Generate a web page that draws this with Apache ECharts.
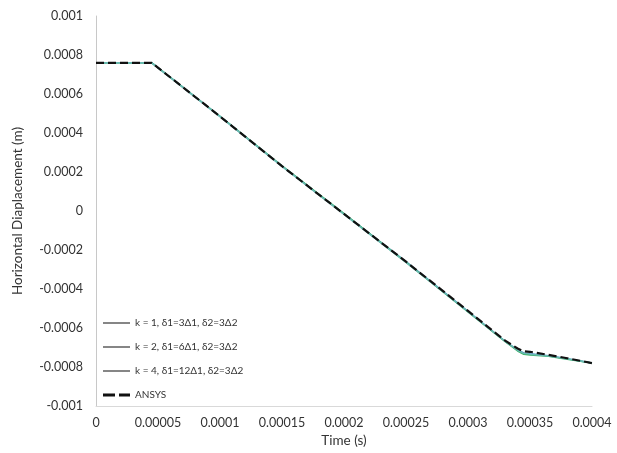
<!DOCTYPE html>
<html><head><meta charset="utf-8">
<script src="https://cdn.jsdelivr.net/npm/echarts@6/dist/echarts.min.js"></script>
<style>html,body{margin:0;padding:0;background:#fff}#c{width:617px;height:453px}</style>
</head><body><div id="c"></div>
<script>
const seriesNames = ['k = 1, \u03b41=3\u03941, \u03b42=3\u03942', 'k = 2, \u03b41=6\u03941, \u03b42=3\u03942', 'k = 4, \u03b41=12\u03941, \u03b42=3\u03942', 'ANSYS'];
const xTickLabels = ['0','0.00005','0.0001','0.00015','0.0002','0.00025','0.0003','0.00035','0.0004'];
const yTickLabels = ['-0.001','-0.0008','-0.0006','-0.0004','-0.0002','0','0.0002','0.0004','0.0006','0.0008','0.001'];
const k1 = [[0,0.00076],[0.000045,0.00076],[0.0001,0.000485],[0.00015,0.00023],[0.0002,-0.000015],[0.00025,-0.00026],[0.0003,-0.000515],[0.00033,-0.000668],[0.00034,-0.000712],[0.000345,-0.000728],[0.00035,-0.000732],[0.000365,-0.000742],[0.00038,-0.000758],[0.0004,-0.00078]];
const k2 = [[0,0.00076],[0.000045,0.00076],[0.0001,0.000486],[0.00015,0.000232],[0.0002,-0.000013],[0.00025,-0.000262],[0.0003,-0.000518],[0.00033,-0.00067],[0.00034,-0.000718],[0.000345,-0.000735],[0.00035,-0.000738],[0.000365,-0.000745],[0.00038,-0.00076],[0.0004,-0.00078]];
const k4 = [[0,0.00076],[0.000045,0.00076],[0.0001,0.000484],[0.00015,0.000229],[0.0002,-0.000017],[0.00025,-0.000264],[0.0003,-0.000516],[0.00033,-0.000669],[0.00034,-0.000714],[0.000345,-0.00073],[0.00035,-0.000734],[0.000365,-0.000743],[0.00038,-0.000758],[0.0004,-0.00078]];
const ansys = [[0,0.00076],[0.000045,0.00076],[0.0001,0.000485],[0.00015,0.00023],[0.0002,-0.000015],[0.00025,-0.00026],[0.0003,-0.000512],[0.00033,-0.000665],[0.00034,-0.000705],[0.000345,-0.00072],[0.00035,-0.000722],[0.000365,-0.000738],[0.00038,-0.000755],[0.0004,-0.00078]];

const font = 'Lato, "Open Sans", sans-serif';
const solidIcon = 'path://M0,0h27v1.3h-27z';
const dashIcon = 'path://M0,0h12v3h-12zM16,0h11v3h-11z';
const chart = echarts.init(document.getElementById('c'), null, {renderer:'canvas'});
const lineSer = (name, data, color, width, type) => ({
  name, type:'line', data, showSymbol:false, symbol:'none', animation:false,
  lineStyle:{color, width, type}, itemStyle:{color}
});
chart.setOption({
  animation:false,
  grid:{left:96, right:25, top:16, bottom:47, containLabel:false},
  legend:{
    show:true, orient:'vertical', left:98, top:313, itemWidth:27, itemHeight:3, itemGap:14,
    textStyle:{fontFamily:font, fontSize:10, color:'#333'},
    data:[
      {name:seriesNames[0], icon:solidIcon, itemStyle:{color:'#444'}},
      {name:seriesNames[1], icon:solidIcon, itemStyle:{color:'#444'}},
      {name:seriesNames[2], icon:solidIcon, itemStyle:{color:'#444'}},
      {name:seriesNames[3], icon:dashIcon, itemStyle:{color:'#111'}}
    ]
  },
  xAxis:{
    type:'value', min:0, max:0.0004, interval:0.00005,
    name:'Time (s)', nameLocation:'middle', nameGap:24,
    nameTextStyle:{fontFamily:font, fontSize:13.5, color:'#333'},
    axisLine:{onZero:false, lineStyle:{color:'#d9d9d9', width:1}},
    axisTick:{show:false}, splitLine:{show:false},
    axisLabel:{fontFamily:font, fontSize:12.5, color:'#333', margin:10,
      formatter:(v)=>{const i=Math.round(v/0.00005);return xTickLabels[i]!==undefined?xTickLabels[i]:'';}}
  },
  yAxis:{
    type:'value', min:-0.001, max:0.001, interval:0.0002,
    name:'Horizontal Diaplacement (m)', nameLocation:'middle', nameGap:71, nameRotate:90,
    nameTextStyle:{fontFamily:font, fontSize:13.5, color:'#333'},
    axisLine:{show:true, lineStyle:{color:'#c8c8c8', width:1}},
    axisTick:{show:false}, splitLine:{show:false},
    axisLabel:{fontFamily:font, fontSize:12.5, color:'#333', margin:13,
      formatter:(v)=>{const i=Math.round((v+0.001)/0.0002);return yTickLabels[i]!==undefined?yTickLabels[i]:'';}}
  },
  series:[
    lineSer(seriesNames[0], k1, '#4a8fc9', 1.5, 'solid'),
    lineSer(seriesNames[1], k2, '#3db36b', 1.5, 'solid'),
    lineSer(seriesNames[2], k4, '#6ab9b2', 1.5, 'solid'),
    lineSer(seriesNames[3], ansys, '#111', 2.2, [8,4])
  ]
});
</script></body></html>
